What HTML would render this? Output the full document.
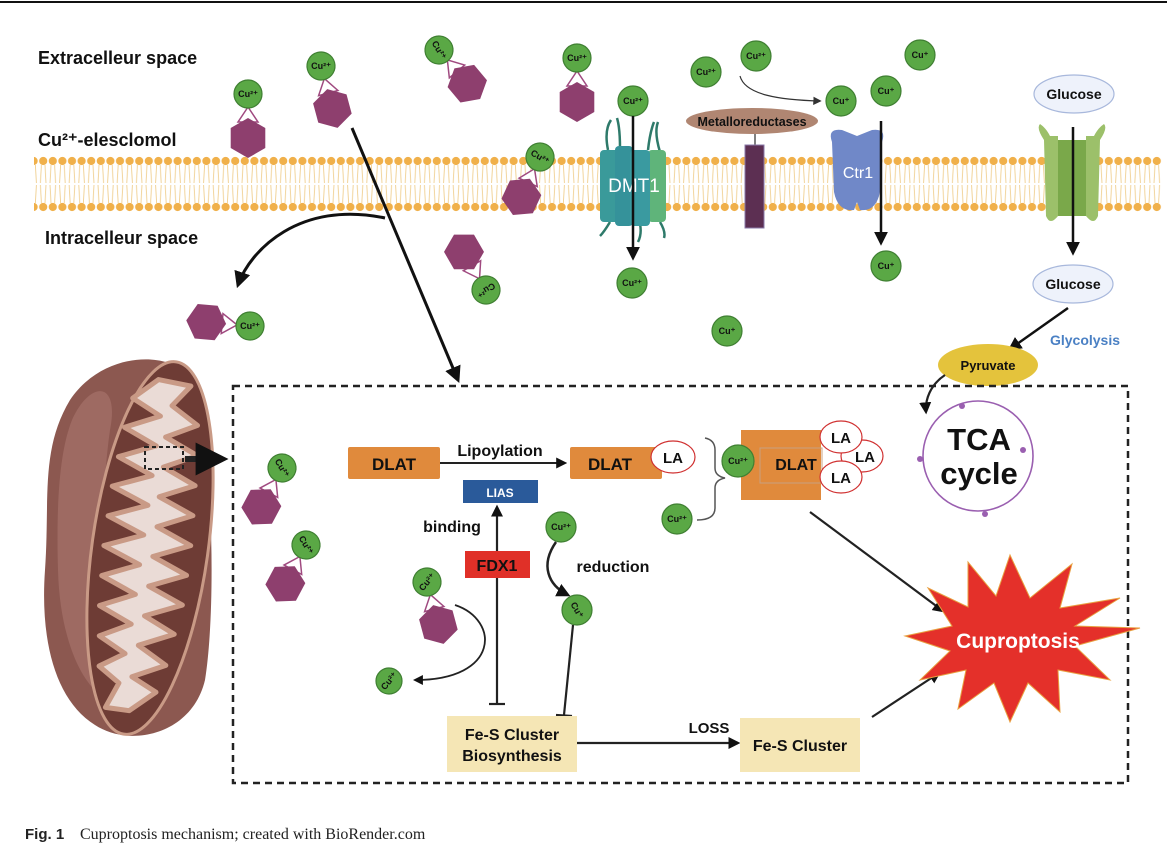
<!DOCTYPE html>
<html><head><meta charset="utf-8"><style>
html,body{margin:0;padding:0;background:#fff;}
svg{display:block;font-family:"Liberation Sans",sans-serif;}
.cu{fill:#5aa845;stroke:#3f7f32;stroke-width:1.2}
.ct{font-size:9px;font-weight:bold;fill:#111;text-anchor:middle}
.hx{fill:#8e3f6e}
.lab{font-weight:bold;font-size:18px;fill:#111}
.bx{font-weight:bold;fill:#111;text-anchor:middle}
</style></head><body>
<svg width="1167" height="856" viewBox="0 0 1167 856" xmlns="http://www.w3.org/2000/svg">
<defs>
<pattern id="mem" x="0" y="156" width="9.6" height="56" patternUnits="userSpaceOnUse">
<path d="M3,9 L2,27 M6.6,9 L7.6,27 M2,29 L3,47 M7.6,29 L6.6,47" stroke="#f0cf90" stroke-width="0.9" fill="none"/>
<circle cx="4.8" cy="5" r="4.1" fill="#f0b04a"/>
<circle cx="4.8" cy="51" r="4.1" fill="#f0b04a"/>
</pattern>
<marker id="ar" viewBox="0 0 10 10" refX="8" refY="5" markerWidth="5.5" markerHeight="5.5" orient="auto"><path d="M0,0 L10,5 L0,10z" fill="#111"/></marker>
<marker id="ars" viewBox="0 0 10 10" refX="8" refY="5" markerWidth="7" markerHeight="7" orient="auto"><path d="M0,0 L10,5 L0,10z" fill="#333"/></marker>
<g id="cx">
<path d="M0,13 L-10,28 L10,28 Z" fill="#fff" stroke="#a04a80" stroke-width="1.5"/>
<polygon class="hx" points="0,24 17.3,34 17.3,54 0,64 -17.3,54 -17.3,34"/>
<circle class="cu" cx="0" cy="0" r="14"/>
</g>
</defs>
<rect width="1167" height="856" fill="#fff"/>
<line x1="0" y1="2" x2="1167" y2="2" stroke="#111" stroke-width="2"/>

<rect x="34" y="156" width="1128" height="56" fill="url(#mem)"/>

<text x="38" y="64" class="lab">Extracelleur space</text>
<text x="38" y="146" class="lab">Cu²⁺-elesclomol</text>
<text x="45" y="244" class="lab">Intracelleur space</text>

<use href="#cx" transform="translate(248,94)"/><text x="248" y="97" class="ct">Cu²⁺</text>
<use href="#cx" transform="translate(321,66) rotate(-15)"/><text x="321" y="69" class="ct">Cu²⁺</text>
<use href="#cx" transform="translate(439,50) rotate(-40)"/><text x="439" y="53" class="ct" transform="rotate(60 439 50)">Cu²⁺</text>
<use href="#cx" transform="translate(577,58)"/><text x="577" y="61" class="ct">Cu²⁺</text>
<use href="#cx" transform="translate(540,157) rotate(25)"/><text x="540" y="160" class="ct" transform="rotate(30 540 157)">Cu²⁺</text>
<use href="#cx" transform="translate(486,290) rotate(150)"/><text x="486" y="293" class="ct" transform="rotate(150 486 290)">Cu²⁺</text>
<use href="#cx" transform="translate(250,326) rotate(95)"/><text x="250" y="329" class="ct">Cu²⁺</text>

<line x1="352" y1="128" x2="458" y2="380" stroke="#111" stroke-width="3" marker-end="url(#ar)"/>
<path d="M385,218 C300,200 250,250 238,285" fill="none" stroke="#111" stroke-width="3" marker-end="url(#ar)"/>

<circle class="cu" cx="633" cy="101" r="15"/><text x="633" y="104" class="ct">Cu²⁺</text>
<g>
<path d="M608,150 q-4,-20 3,-30 M620,148 q0,-20 -3,-30 M648,150 q2,-18 6,-28 M660,152 q-6,-20 -2,-30 M610,222 q-6,10 -10,14 M640,224 q2,10 -2,18 M660,222 q6,10 4,16" stroke="#2e7a6a" stroke-width="2.5" fill="none"/>
<rect x="648" y="150" width="18" height="72" rx="4" fill="#5fb47a"/>
<rect x="600" y="150" width="20" height="72" rx="4" fill="#3a9a9a"/>
<rect x="615" y="146" width="18" height="80" rx="4" fill="#35929a"/>
<rect x="630" y="150" width="20" height="76" rx="4" fill="#3a9aa0"/>
<text x="634" y="192" font-size="19" fill="#fff" text-anchor="middle">DMT1</text>
</g>
<line x1="633" y1="116" x2="633" y2="258" stroke="#111" stroke-width="2.5" marker-end="url(#ar)"/>
<circle class="cu" cx="632" cy="283" r="15"/><text x="632" y="286" class="ct">Cu²⁺</text>

<circle class="cu" cx="706" cy="72" r="15"/><text x="706" y="75" class="ct">Cu²⁺</text>
<circle class="cu" cx="756" cy="56" r="15"/><text x="756" y="59" class="ct">Cu²⁺</text>
<path d="M740,76 C745,95 780,100 820,101" fill="none" stroke="#333" stroke-width="1.2" marker-end="url(#ars)"/>
<circle class="cu" cx="841" cy="101" r="15"/><text x="841" y="104" class="ct">Cu⁺</text>
<line x1="755" y1="130" x2="755" y2="146" stroke="#555" stroke-width="1.5"/>
<rect x="745" y="145" width="19" height="83" fill="#5c2f52" stroke="#8a7aa8" stroke-width="1"/>
<ellipse cx="752" cy="121" rx="66" ry="13" fill="#b08672"/>
<text x="752" y="126" font-size="12.5" font-weight="bold" text-anchor="middle" fill="#111">Metalloreductases</text>

<circle class="cu" cx="920" cy="55" r="15"/><text x="920" y="58" class="ct">Cu⁺</text>
<circle class="cu" cx="886" cy="91" r="15"/><text x="886" y="94" class="ct">Cu⁺</text>
<path d="M832,142 q-5,-14 10,-12 l15,6 l15,-6 q15,-2 10,12 l-2,50 q-4,20 -20,18 l-3,-8 l-3,8 q-16,2 -20,-18 z" fill="#7088c8"/>
<text x="858" y="178" font-size="16" fill="#fff" text-anchor="middle">Ctr1</text>
<line x1="881" y1="121" x2="881" y2="243" stroke="#111" stroke-width="2.5" marker-end="url(#ar)"/>
<circle class="cu" cx="886" cy="266" r="15"/><text x="886" y="269" class="ct">Cu⁺</text>
<circle class="cu" cx="727" cy="331" r="15"/><text x="727" y="334" class="ct">Cu⁺</text>

<ellipse cx="1074" cy="94" rx="40" ry="19" fill="#eef2fb" stroke="#a8b8dc" stroke-width="1.2"/>
<text x="1074" y="99" class="bx" font-size="14">Glucose</text>
<path d="M1044,140 q-8,-12 -4,-16 q6,4 10,12 l8,0 l0,80 q-8,10 -12,0 z M1100,140 q8,-12 4,-16 q-6,4 -10,12 l-8,0 l0,80 q8,10 12,0 z" fill="#9cc06a"/>
<rect x="1058" y="140" width="28" height="76" fill="#7aa84a"/>
<line x1="1073" y1="127" x2="1073" y2="253" stroke="#111" stroke-width="2.5" marker-end="url(#ar)"/>
<ellipse cx="1073" cy="284" rx="40" ry="19" fill="#eef2fb" stroke="#a8b8dc" stroke-width="1.2"/>
<text x="1073" y="289" class="bx" font-size="14">Glucose</text>
<line x1="1068" y1="308" x2="1010" y2="349" stroke="#111" stroke-width="2.5" marker-end="url(#ar)"/>
<text x="1085" y="345" font-size="14" font-weight="bold" fill="#4a80c4" text-anchor="middle">Glycolysis</text>
<ellipse cx="988" cy="365" rx="50" ry="21" fill="#e4c33c"/>
<text x="988" y="370" class="bx" font-size="13">Pyruvate</text>

<rect x="233" y="386" width="895" height="397" fill="none" stroke="#222" stroke-width="2.5" stroke-dasharray="7,5"/>

<!-- mitochondrion -->
<path d="M70,400 C100,355 160,350 185,372 C212,400 218,600 205,680 C192,735 130,748 95,725 C55,700 40,640 45,570 C50,500 40,450 70,400Z" fill="#8c5850"/>
<path d="M72,420 C90,380 120,380 110,430 C100,500 100,600 115,700 C90,700 60,650 58,570 C56,500 60,450 72,420Z" fill="#9e6a62"/>
<ellipse cx="150" cy="548" rx="58" ry="188" transform="rotate(8 150 548)" fill="#6e3c35" stroke="#c99a86" stroke-width="3"/>
<g transform="rotate(8 150 548)">
<polygon points="135,380 112,402 142,416 108,432 142,446 106,462 142,476 104,492 142,506 104,522 142,536 104,552 142,566 106,582 142,596 108,612 142,626 112,642 140,656 116,672 138,686 128,712 152,712 176,690 150,678 182,662 152,646 186,630 154,616 190,600 154,586 190,570 154,556 190,540 154,526 188,510 152,496 186,480 152,466 184,450 150,436 180,420 152,404 168,382" fill="#eadbd6" stroke="#c99a86" stroke-width="5" stroke-linejoin="round"/>
</g>
<rect x="145" y="447" width="38" height="22" fill="none" stroke="#222" stroke-width="2" stroke-dasharray="4,3"/>
<line x1="185" y1="459" x2="222" y2="459" stroke="#222" stroke-width="6" marker-end="url(#ar)"/>

<use href="#cx" transform="translate(282,468) rotate(28)"/><text x="282" y="471" class="ct" transform="rotate(60 282 468)">Cu²⁺</text>
<use href="#cx" transform="translate(306,545) rotate(28)"/><text x="306" y="548" class="ct" transform="rotate(60 306 545)">Cu²⁺</text>
<use href="#cx" transform="translate(427,582) rotate(-15)"/><text x="427" y="585" class="ct" transform="rotate(-50 427 582)">Cu²⁺</text>
<path d="M455,605 C500,620 500,680 415,680" fill="none" stroke="#222" stroke-width="1.8" marker-end="url(#ar)"/>
<circle class="cu" cx="389" cy="681" r="13"/><text x="389" y="684" class="ct" transform="rotate(-50 389 681)">Cu²⁺</text>

<rect x="348" y="447" width="92" height="32" rx="2" fill="#e08a3c"/>
<text x="394" y="470" class="bx" font-size="17">DLAT</text>
<line x1="440" y1="463" x2="565" y2="463" stroke="#222" stroke-width="2" marker-end="url(#ar)"/>
<text x="500" y="456" class="bx" font-size="16">Lipoylation</text>
<rect x="570" y="447" width="92" height="32" rx="2" fill="#e08a3c"/>
<text x="610" y="470" class="bx" font-size="17">DLAT</text>
<ellipse cx="673" cy="457" rx="22" ry="16" fill="#fff" stroke="#d03030" stroke-width="1.2"/>
<text x="673" y="463" class="bx" font-size="15" font-weight="normal">LA</text>
<rect x="463" y="480" width="75" height="23" fill="#2a5a9a"/>
<text x="500" y="497" font-size="12" font-weight="bold" fill="#fff" text-anchor="middle">LIAS</text>
<text x="452" y="532" class="bx" font-size="16">binding</text>
<line x1="497" y1="551" x2="497" y2="507" stroke="#222" stroke-width="2.2" marker-end="url(#ar)"/>
<rect x="465" y="551" width="65" height="27" fill="#e03028"/>
<text x="497" y="571" class="bx" font-size="16">FDX1</text>
<line x1="497" y1="578" x2="497" y2="703" stroke="#222" stroke-width="2.2"/>
<line x1="489" y1="704" x2="505" y2="704" stroke="#222" stroke-width="2.2"/>

<circle class="cu" cx="561" cy="527" r="15"/><text x="561" y="530" class="ct">Cu²⁺</text>
<path d="M556,542 C540,565 548,585 568,595" fill="none" stroke="#222" stroke-width="2.5" marker-end="url(#ar)"/>
<text x="613" y="572" class="bx" font-size="16">reduction</text>
<circle class="cu" cx="577" cy="610" r="15"/><text x="577" y="613" class="ct" transform="rotate(60 577 610)">Cu⁺</text>
<line x1="573" y1="625" x2="564" y2="715" stroke="#222" stroke-width="2.2"/>
<line x1="556" y1="715" x2="572" y2="716" stroke="#222" stroke-width="2.2"/>

<rect x="447" y="716" width="130" height="56" fill="#f5e6b5"/>
<text x="512" y="740" class="bx" font-size="16">Fe-S Cluster</text>
<text x="512" y="761" class="bx" font-size="16">Biosynthesis</text>
<line x1="577" y1="743" x2="738" y2="743" stroke="#222" stroke-width="2.2" marker-end="url(#ar)"/>
<text x="709" y="733" class="bx" font-size="15" font-weight="normal">LOSS</text>
<rect x="740" y="718" width="120" height="54" fill="#f5e6b5"/>
<text x="800" y="751" class="bx" font-size="16">Fe-S Cluster</text>

<path d="M705,438 q10,2 10,12 l0,18 q0,8 10,10 q-10,2 -10,10 l0,20 q0,12 -18,12" fill="none" stroke="#555" stroke-width="1.5"/>
<circle class="cu" cx="677" cy="519" r="15"/><text x="677" y="522" class="ct">Cu²⁺</text>
<rect x="741" y="430" width="80" height="70" fill="#e08a3c"/>
<rect x="760" y="448" width="62" height="35" fill="none" stroke="#c8a080" stroke-width="1"/>
<circle class="cu" cx="738" cy="461" r="16"/><text x="738" y="464" class="ct">Cu²⁺</text>
<text x="796" y="470" class="bx" font-size="16">DLAT</text>
<ellipse cx="862" cy="456" rx="21" ry="16" fill="#fff" stroke="#d03030" stroke-width="1.2"/>
<ellipse cx="841" cy="437" rx="21" ry="16" fill="#fff" stroke="#d03030" stroke-width="1.2"/>
<ellipse cx="841" cy="477" rx="21" ry="16" fill="#fff" stroke="#d03030" stroke-width="1.2"/>
<text x="865" y="462" class="bx" font-size="15" font-weight="normal">LA</text>
<text x="841" y="443" class="bx" font-size="15" font-weight="normal">LA</text>
<text x="841" y="483" class="bx" font-size="15" font-weight="normal">LA</text>

<line x1="810" y1="512" x2="943" y2="611" stroke="#222" stroke-width="2.2" marker-end="url(#ar)"/>
<line x1="872" y1="717" x2="939" y2="673" stroke="#222" stroke-width="2.2" marker-end="url(#ar)"/>

<path d="M945,375 C930,385 925,400 926,412" fill="none" stroke="#222" stroke-width="2.2" marker-end="url(#ar)"/>
<circle cx="978" cy="456" r="55" fill="none" stroke="#9a5fb0" stroke-width="1.6"/>
<circle cx="962" cy="406" r="3" fill="#9a5fb0"/><circle cx="1023" cy="450" r="3" fill="#9a5fb0"/>
<circle cx="985" cy="514" r="3" fill="#9a5fb0"/><circle cx="920" cy="459" r="3" fill="#9a5fb0"/>
<text x="979" y="450" class="bx" font-size="31">TCA</text>
<text x="979" y="484" class="bx" font-size="31">cycle</text>

<polygon points="1140,628 1075,646 1110,680 1058,670 1060,712 1028,683 1010,722 994,683 958,709 966,670 920,680 950,651 905,636 952,626 928,588 968,607 968,562 996,596 1010,555 1030,598 1072,564 1060,608 1120,598 1075,626" fill="#e4302a" stroke="#e8a040" stroke-width="1"/>
<text x="1018" y="648" font-size="21" font-weight="bold" fill="#fff" text-anchor="middle">Cuproptosis</text>

<text x="25" y="839" font-size="15" font-weight="bold" fill="#222">Fig. 1</text>
<text x="80" y="839" font-size="16" font-family="Liberation Serif, serif" fill="#222">Cuproptosis mechanism; created with BioRender.com</text>
</svg>
</body></html>
